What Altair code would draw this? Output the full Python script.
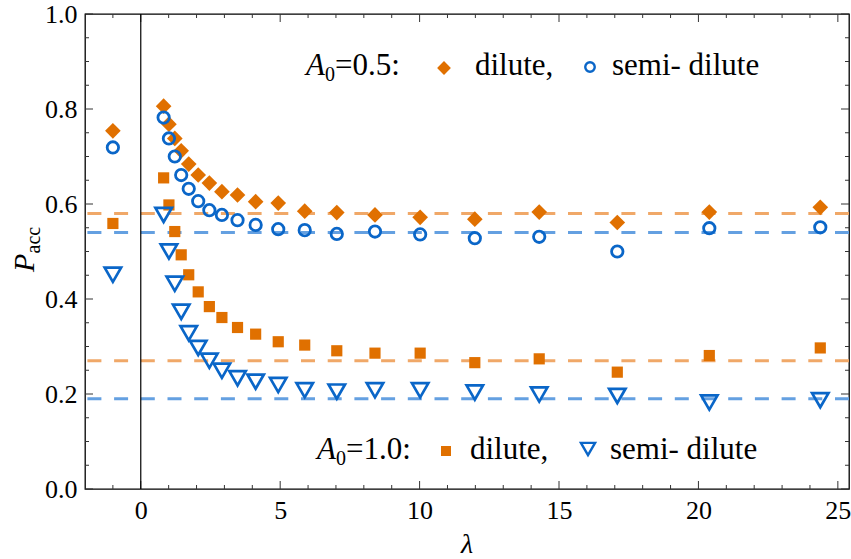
import altair as alt
import pandas as pd

# ---------------- data ----------------
lam = [-1.0, 0.82, 1.01, 1.22, 1.45, 1.72, 2.06, 2.46, 2.91, 3.47, 4.12,
       4.93, 5.88, 7.03, 8.40, 10.02, 11.98, 14.29, 17.09, 20.39, 24.37]

p_dilute_05 = [0.754, 0.806, 0.768, 0.738, 0.712, 0.684, 0.661, 0.644, 0.626, 0.619, 0.605,
               0.602, 0.585, 0.582, 0.577, 0.572, 0.568, 0.583, 0.561, 0.583, 0.593]
p_semi_05 = [0.719, 0.782, 0.738, 0.700, 0.661, 0.632, 0.606, 0.587, 0.577, 0.566, 0.556,
             0.547, 0.545, 0.537, 0.542, 0.536, 0.528, 0.531, 0.500, 0.549, 0.551]
p_dilute_10 = [0.559, 0.655, 0.598, 0.542, 0.493, 0.451, 0.415, 0.384, 0.361, 0.340, 0.326,
               0.310, 0.303, 0.291, 0.286, 0.286, 0.266, 0.274, 0.246, 0.281, 0.297]
p_semi_10 = [0.451, 0.577, 0.500, 0.432, 0.373, 0.328, 0.297, 0.270, 0.249, 0.233, 0.226,
             0.219, 0.208, 0.205, 0.208, 0.208, 0.203, 0.199, 0.196, 0.182, 0.187]

ref_levels = [0.58, 0.54, 0.27, 0.19]
ref_kind = ["orange", "blue", "orange", "blue"]

x_major = [0, 5, 10, 15, 20, 25]
x_minor = [-1, 1, 2, 3, 4, 6, 7, 8, 9, 11, 12, 13, 14, 16, 17, 18, 19, 21, 22, 23, 24]
y_major = [0.0, 0.2, 0.4, 0.6, 0.8, 1.0]
y_minor = [0.05, 0.1, 0.15, 0.25, 0.3, 0.35, 0.45, 0.5, 0.55, 0.65, 0.7, 0.75,
           0.85, 0.9, 0.95]

# ---------------- styling ----------------
W, H = 764, 475
SERIF = "Liberation Serif"
ORANGE = "#E07000"
BLUE = "#0A66C8"
ORANGE_L = "#F0A868"
BLUE_L = "#64A0E1"
TICK = "#333333"

xscale = alt.Scale(domain=[-2, 25.4], nice=False, zero=False)
yscale = alt.Scale(domain=[0, 1], nice=False, zero=False)

df_all = pd.DataFrame({"lam": lam, "p": p_dilute_05})


def series(vals):
    return pd.DataFrame({"lam": lam, "p": vals})


def X(axis=None, field="lam"):
    return alt.X(f"{field}:Q", scale=xscale, axis=axis)


def Y(axis=None, field="p"):
    return alt.Y(f"{field}:Q", scale=yscale, axis=axis)


# axes carrying the labels (ticks drawn separately, pointing inwards)
label_x = alt.Axis(values=x_major, format="d", ticks=False, domain=False, grid=False,
                   labelFont=SERIF, labelFontSize=26, labelColor="black", labelPadding=8,
                   labelFlush=False, title=None)
label_y = alt.Axis(values=y_major, format=".1f", ticks=False, domain=False, grid=False,
                   labelFont=SERIF, labelFontSize=26, labelColor="black", labelPadding=8,
                   labelFlush=False, title=None)
axes_labels = alt.Chart(df_all).mark_point(opacity=0).encode(x=X(label_x), y=Y(label_y))


# inward frame ticks
def xticks(vals, length):
    d = pd.DataFrame({"lam": vals})
    bottom = alt.Chart(d).mark_rule(color=TICK, strokeWidth=1).encode(
        x=X(), y=alt.value(H), y2=alt.value(H - length))
    top = alt.Chart(d).mark_rule(color=TICK, strokeWidth=1).encode(
        x=X(), y=alt.value(0), y2=alt.value(length))
    return [bottom, top]


def yticks(vals, length):
    d = pd.DataFrame({"p": vals})
    left = alt.Chart(d).mark_rule(color=TICK, strokeWidth=1).encode(
        y=Y(), x=alt.value(0), x2=alt.value(length))
    right = alt.Chart(d).mark_rule(color=TICK, strokeWidth=1).encode(
        y=Y(), x=alt.value(W), x2=alt.value(W - length))
    return [left, right]


tick_layers = xticks(x_major, 8) + xticks(x_minor, 4) + yticks(y_major, 8) + yticks(y_minor, 4)

# reference dashed lines
ref_df = pd.DataFrame({"p": ref_levels, "kind": ref_kind})
hlines = alt.Chart(ref_df).mark_rule(strokeDash=[14, 12.7], strokeWidth=3).encode(
    y=Y(),
    color=alt.Color("kind:N", scale=alt.Scale(domain=["orange", "blue"], range=[ORANGE_L, BLUE_L]),
                    legend=None),
)

# vertical line at lambda = 0
vline = alt.Chart(pd.DataFrame({"lam": [0]})).mark_rule(color="black", strokeWidth=1.2).encode(x=X())

# markers
sq = alt.Chart(series(p_dilute_10)).mark_point(shape="square", filled=True, color=ORANGE,
                                               size=125, opacity=1).encode(x=X(), y=Y())
di = alt.Chart(series(p_dilute_05)).mark_point(shape="diamond", filled=True, color=ORANGE,
                                               size=245, opacity=1).encode(x=X(), y=Y())
ci = alt.Chart(series(p_semi_05)).mark_point(shape="circle", filled=False, color=BLUE,
                                             size=130, strokeWidth=2.8, opacity=1).encode(x=X(), y=Y())
tr = alt.Chart(series(p_semi_10)).mark_point(shape="triangle-down", filled=False, color=BLUE,
                                             size=270, strokeWidth=2.7, opacity=1).encode(x=X(), y=Y())

# legends / annotations
one = pd.DataFrame({"a": [0]})


def txt(s, x, y, size=31, style="normal", angle=0):
    return alt.Chart(one).mark_text(text=s, font=SERIF, fontSize=size, fontStyle=style,
                                    align="left", baseline="alphabetic", color="black",
                                    angle=angle).encode(x=alt.value(x), y=alt.value(y))


def sym(shape, filled, color, size, x, y):
    kw = dict(shape=shape, filled=filled, color=color, size=size, opacity=1)
    if not filled:
        kw["strokeWidth"] = 2.4
    return alt.Chart(one).mark_point(**kw).encode(x=alt.value(x), y=alt.value(y))


legend_layers = [
    # top row: A0 = 0.5
    txt("A", 221, 61, style="italic"),
    txt("0", 240, 67, size=20),
    txt("=0.5:", 250, 61),
    sym("diamond", True, ORANGE, 190, 359, 54),
    txt("dilute,", 390, 61),
    sym("circle", False, BLUE, 90, 505, 53),
    txt("semi- dilute", 527, 61),
    # bottom row: A0 = 1.0
    txt("A", 232, 445, style="italic"),
    txt("0", 251, 451, size=20),
    txt("=1.0:", 261, 445),
    sym("square", True, ORANGE, 100, 361, 437),
    txt("dilute,", 385, 445),
    sym("triangle-down", False, BLUE, 200, 503, 435),
    txt("semi- dilute", 525, 445),
    # axis titles
    txt("P", -51, 258, size=30, style="italic", angle=270),
    txt("acc", -45, 239.5, size=20, angle=270),
    alt.Chart(one).mark_text(text="λ", font=SERIF, fontSize=28, fontStyle="italic",
                             align="center", baseline="alphabetic", color="black").encode(
        x=alt.value(W / 2), y=alt.value(539)),
]

chart = alt.layer(
    axes_labels, *tick_layers, hlines, vline, sq, di, ci, tr, *legend_layers
).resolve_axis(x="independent", y="independent").properties(
    width=W, height=H,
    autosize=alt.AutoSizeParams(type="none"),
    padding={"left": 85, "top": 14, "right": 2, "bottom": 70},
).configure_view(stroke="black", strokeWidth=1.3).configure_axis(grid=False)

chart.save("out.html", embed_options={"renderer": "svg", "actions": False})
